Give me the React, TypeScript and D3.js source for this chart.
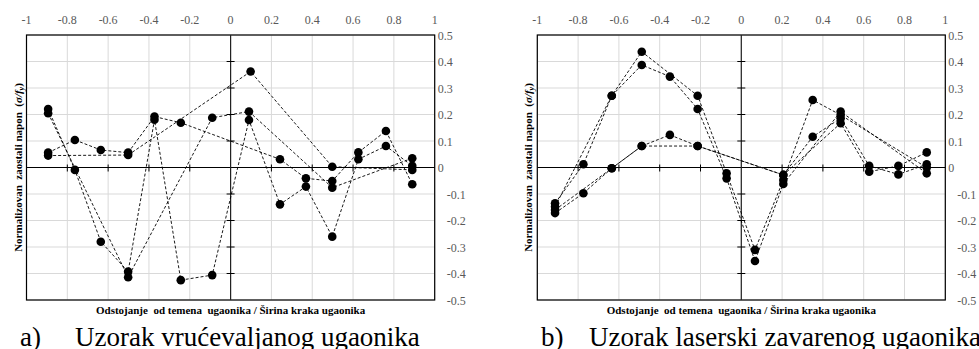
import React from "react";
import * as d3 from "d3";

// tick values shared by both panels
const xTickValues = [-1, -0.8, -0.6, -0.4, -0.2, 0, 0.2, 0.4, 0.6, 0.8, 1];
const yTickValues = [0.5, 0.4, 0.3, 0.2, 0.1, 0, -0.1, -0.2, -0.3, -0.4, -0.5];

// a) hot-rolled angle, four measured sections
const hotX1 = [-0.894, -0.763, -0.636, -0.502, -0.373, -0.244, -0.09, 0.09, 0.242, 0.369, 0.498, 0.626, 0.761, 0.89];
const hotY1 = [0.221, -0.009, -0.28, -0.393, 0.18, -0.425, -0.406, 0.179, -0.139, -0.072, -0.261, 0.031, 0.081, 0.006];
const hotX2 = [-0.894, -0.763, -0.636, -0.502, -0.373, -0.244, 0.242, 0.369, 0.498, 0.626, 0.761, 0.89];
const hotY2 = [0.056, 0.104, 0.066, 0.056, 0.192, 0.169, 0.031, -0.041, -0.051, 0.057, 0.138, -0.063];
const hotX3 = [-0.894, -0.502, 0.098, 0.498, 0.89];
const hotY3 = [0.045, 0.047, 0.362, 0.003, -0.009];
const hotX4 = [-0.894, -0.502, -0.09, 0.09, 0.498, 0.89];
const hotY4 = [0.205, -0.414, 0.188, 0.211, -0.076, 0.035];

// b) laser welded angle
const lasX1 = [-0.913, -0.774, -0.635, -0.488, -0.214, -0.072, 0.067, 0.206, 0.35, 0.487, 0.909];
const lasY1 = [-0.135, 0.012, 0.271, 0.437, 0.271, -0.022, -0.311, -0.047, 0.255, 0.198, 0.0];
const lasX2 = [-0.913, -0.635, -0.488, -0.35, -0.214, -0.072, 0.067, 0.206, 0.487, 0.909];
const lasY2 = [-0.148, 0.271, 0.387, 0.343, 0.221, -0.041, -0.353, -0.062, 0.211, -0.022];
const lasX3 = [-0.913, -0.635, -0.488, -0.214, 0.206, 0.35, 0.487, 0.627, 0.77, 0.909];
const lasY3 = [-0.16, -0.003, 0.081, 0.081, -0.028, 0.116, 0.186, 0.006, -0.026, 0.012];
const lasX4 = [-0.913, -0.774, -0.635, -0.488, -0.35, -0.214, 0.206, 0.487, 0.627, 0.77, 0.909];
const lasY4 = [-0.172, -0.097, -0.003, 0.081, 0.123, 0.081, -0.028, 0.167, -0.016, 0.006, 0.057];

const zip = (xs: number[], ys: number[]) => xs.map((x, i) => ({ x, y: ys[i] }));

const hotSeries = [zip(hotX1, hotY1), zip(hotX2, hotY2), zip(hotX3, hotY3), zip(hotX4, hotY4)];
const laserSeries = [zip(lasX1, lasY1), zip(lasX2, lasY2), zip(lasX3, lasY3), zip(lasX4, lasY4)];

const FONT = "Liberation Serif";

type Pt = { x: number; y: number };

function Panel({ series, left, right, tag, caption, tagX, capX }: {
  series: Pt[][]; left: number; right: number; tag: string; caption: string; tagX: number; capX: number;
}) {
  const top = 35;
  const bottom = 300;
  const x = d3.scaleLinear().domain([-1, 1]).range([left, right]);
  const y = d3.scaleLinear().domain([-0.5, 0.5]).range([bottom, top]);
  const line = d3.line<Pt>().x((d) => x(d.x)).y((d) => y(d.y));
  const cx = x(0);

  return (
    <g fontFamily={FONT}>
      {/* grid */}
      {xTickValues.map((v) => (
        <line key={"gx" + v} x1={x(v)} x2={x(v)} y1={top} y2={bottom} stroke="#d9d9d9" strokeWidth={1} />
      ))}
      {yTickValues.map((v) => (
        <line key={"gy" + v} x1={left} x2={right} y1={y(v)} y2={y(v)} stroke="#d9d9d9" strokeWidth={1} />
      ))}
      <rect x={left} y={top} width={right - left} height={bottom - top} fill="none" stroke="#000" strokeWidth={1.2} />

      {/* axes through the origin */}
      <line x1={left} x2={right} y1={y(0)} y2={y(0)} stroke="#000" strokeWidth={1.2} />
      <line x1={cx} x2={cx} y1={top} y2={bottom} stroke="#222" strokeWidth={1.2} />
      {xTickValues.filter((v) => Math.abs(v) < 1 && v !== 0).map((v) => (
        <line key={"tx" + v} x1={x(v)} x2={x(v)} y1={y(0) - 3} y2={y(0) + 4} stroke="#000" strokeWidth={1} />
      ))}
      {yTickValues.filter((v) => Math.abs(v) < 0.5 && v !== 0).map((v) => (
        <line key={"ty" + v} x1={cx - 4} x2={cx + 4} y1={y(v)} y2={y(v)} stroke="#000" strokeWidth={1} />
      ))}

      {/* tick labels: x on top, y on the right */}
      {xTickValues.map((v) => (
        <text key={"lx" + v} x={x(v)} y={24} textAnchor="middle" fontSize={12} fill="#595959">
          {String(v)}
        </text>
      ))}
      {yTickValues.map((v) => (
        <text key={"ly" + v} x={right + (v < 0 ? 12 : 3)} y={y(v) + 4.5} fontSize={12} fill="#595959">
          {String(v)}
        </text>
      ))}

      {/* series */}
      {series.map((s, i) => (
        <path key={"s" + i} d={line(s) || ""} fill="none" stroke="#000" strokeWidth={0.9} strokeDasharray="3,2" />
      ))}
      {series.map((s, i) =>
        s.map((d, j) => <circle key={"p" + i + "-" + j} cx={x(d.x)} cy={y(d.y)} r={4.3} fill="#000" />)
      )}

      {/* axis titles */}
      <text
        transform={`translate(${left - 5},${(top + bottom) / 2}) rotate(-90)`}
        textAnchor="middle" fontSize={11} fontWeight="bold" style={{ whiteSpace: "pre" }}
      >
        {"Normalizovan  zaostali napon  ("}
        <tspan fontStyle="italic">σ/f</tspan>
        <tspan fontStyle="italic" fontSize={8} dy={2}>y</tspan>
        <tspan dy={-2}>)</tspan>
      </text>
      <text x={cx} y={314} textAnchor="middle" fontSize={11} fontWeight="bold" style={{ whiteSpace: "pre" }}>
        {"Odstojanje  od temena  ugaonika / Širina kraka ugaonika"}
      </text>

      {/* caption */}
      <text x={tagX} y={346} fontSize={27}>{tag}</text>
      <text x={capX} y={346} fontSize={27}>{caption}</text>
    </g>
  );
}

export default function App() {
  return (
    <svg width={979} height={349} style={{ position: "absolute", left: 0, top: 0, background: "#fff" }}>
      <rect width={979} height={349} fill="#fff" />
      <Panel series={hotSeries} left={26.5} right={434.7} tag="a)" caption="Uzorak vrućevaljanog ugaonika" tagX={20} capX={75} />
      <Panel series={laserSeries} left={537.3} right={945.3} tag="b)" caption="Uzorak laserski zavarenog ugaonika" tagX={541} capX={589} />
    </svg>
  );
}
